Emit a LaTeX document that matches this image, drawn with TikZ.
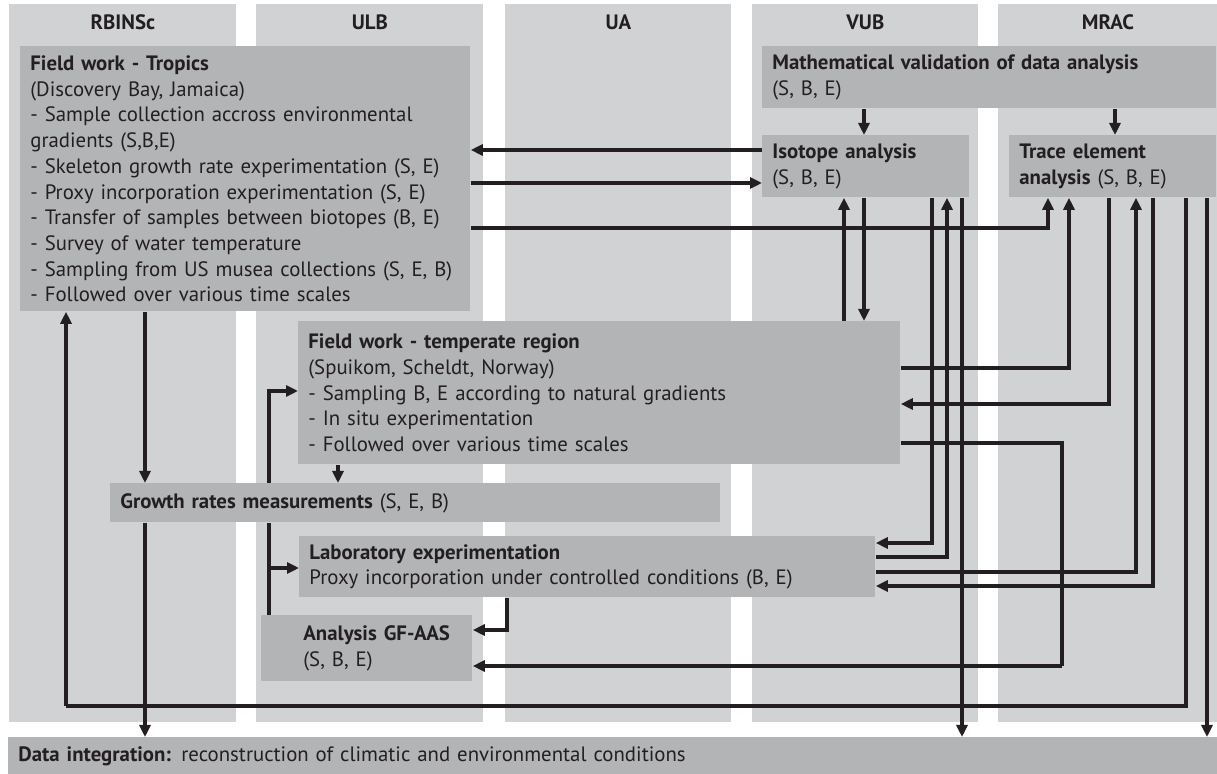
\documentclass[tikz,border=0pt]{standalone}
\usepackage{fontspec}
\setmainfont{PT Sans}
\usetikzlibrary{positioning,arrows.meta,calc}
\definecolor{lanegray}{HTML}{D1D2D4}
\definecolor{boxgray}{HTML}{B3B4B6}
\definecolor{ink}{HTML}{231F20}

\begin{document}
\begin{tikzpicture}[
    x=0.5pt, y=-0.5pt,
    lane/.style={fill=lanegray, anchor=north west, minimum height=359pt, inner sep=0pt},
    head/.style={font=\fontsize{10.4}{12}\selectfont\bfseries, text=ink},
    task/.style={fill=boxgray, anchor=north west, align=left, inner xsep=5pt, inner ysep=0pt,
        text=ink, font=\fontsize{10.4}{12.85}\selectfont},
    wire/.style={line width=2pt, draw=ink},
    flow/.style={wire, -{Triangle[length=6pt, width=5.5pt]}}
]
    \useasboundingbox (0,0) rectangle (1217,774);

    % Partner lanes
    \node[lane, minimum width=113.5pt] (laneA) at (9,4) {};
    \node[lane, minimum width=113.5pt] (laneB) at (256,4) {};
    \node[lane, minimum width=113pt] (laneC) at (505,4) {};
    \node[lane, minimum width=113pt] (laneD) at (752,4) {};
    \node[lane, minimum width=109.5pt] (laneE) at (998,4) {};
    \node[head] (hA) at ([yshift=-9pt]laneA.north) {RBINSc};
    \node[head] (hB) at ([yshift=-9pt]laneB.north) {ULB};
    \node[head] (hC) at ([yshift=-9pt]laneC.north) {UA};
    \node[head] (hD) at ([yshift=-9pt]laneD.north) {VUB};
    \node[head] (hE) at ([yshift=-9pt]laneE.north) {MRAC};

    % Tasks
    \node[task, minimum width=225pt, text width=215pt, minimum height=132.5pt] (trop) at (20,46)
        {\textbf{Field work - Tropics}\\
         (Discovery Bay, Jamaica)\\
         - Sample collection accross environmental\\
         gradients (S,B,E)\\
         - Skeleton growth rate experimentation (S, E)\\
         - Proxy incorporation experimentation (S, E)\\
         - Transfer of samples between biotopes (B, E)\\
         - Survey of water temperature\\
         - Sampling from US musea collections (S, E, B)\\
         - Followed over various time scales};
    \node[task, minimum width=227pt, text width=217pt, minimum height=31pt] (math) at (762,46)
        {\textbf{Mathematical validation of data analysis}\\ (S, B, E)};
    \node[task, minimum width=103.5pt, text width=93.5pt, minimum height=31pt] (iso) at (762,135)
        {\textbf{Isotope analysis}\\ (S, B, E)};
    \node[task, minimum width=103.5pt, text width=93.5pt, minimum height=31pt] (trace) at (1009,135)
        {\textbf{Trace element}\\ \textbf{analysis} (S, B, E)};
    \node[task, minimum width=301pt, text width=291pt, minimum height=71.5pt] (temp) at (298,321)
        {\textbf{Field work - temperate region}\\
         (Spuikom, Scheldt, Norway)\\
         - Sampling B, E according to natural gradients\\
         - In situ experimentation\\
         - Followed over various time scales};
    \node[task, minimum width=305pt, text width=295pt, minimum height=19.5pt] (growth) at (110,483)
        {\textbf{Growth rates measurements} (S, E, B)};
    \node[task, minimum width=288pt, text width=278pt, minimum height=30.5pt] (lab) at (299,536)
        {\textbf{Laboratory experimentation}\\ Proxy incorporation under controlled conditions (B, E)};
    \node[task, minimum width=105.5pt, text width=95.5pt, minimum height=33pt] (gfaas) at (261,615)
        {\hspace*{16pt}\textbf{Analysis GF-AAS}\\ \hspace*{16pt}(S, B, E)};
    \node[task, minimum width=604.5pt, text width=594.5pt, minimum height=18.5pt] (data) at (8,737)
        {\textbf{Data integration:} reconstruction of climatic and environmental conditions};

    % Helper corners
    \coordinate (split) at (269,568);
    \coordinate (loopL) at (66,706);
    \coordinate (turnG) at (1062,666);

    % Tropics links
    \draw[flow] (iso.west |- 0,150) -- (trop.east |- 0,150);
    \draw[flow] (trop.east |- 0,183) -- (iso.west |- 0,183);
    \draw[flow] (trop.east |- 0,228) -| (trace.south -| 1048,0);
    \draw[flow] (trop.south -| 145,0) -- (growth.north -| 145,0);
    \draw[flow] (growth.south -| 145,0) -- (data.north -| 145,0);

    % Validation
    \draw[flow] (math.south -| 864,0) -- (iso.north -| 864,0);
    \draw[flow] (math.south -| 1115,0) -- (trace.north -| 1115,0);

    % Temperate region
    \draw[flow] (temp.north -| 844,0) -- (iso.south -| 844,0);
    \draw[flow] (iso.south -| 864,0) -- (temp.north -| 864,0);
    \draw[flow] (temp.south -| 338,0) -- (growth.north -| 338,0);
    \draw[flow] (temp.east |- 0,368) -| (trace.south -| 1069,0);
    \draw[flow] (trace.south -| 1109,0) |- (temp.east |- 0,404);
    \draw[wire] (temp.east |- 0,443) -| (turnG);
    \draw[flow] (turnG) -- (gfaas.east |- turnG);

    % Laboratory and GF-AAS (the feed runs behind the growth box)
    \draw[flow] (lab.south -| 507,0) |- (gfaas.east |- 0,630);
    \draw[wire] (gfaas.north -| split) -- (growth.south -| split);
    \draw[flow] (growth.north -| split) |- (temp.west |- 0,391);
    \draw[flow] (split) -- (lab.west |- split);
    \draw[flow] (iso.south -| 932,0) |- (lab.east |- 0,543);
    \draw[flow] (lab.east |- 0,557) -| (iso.south -| 947,0);
    \draw[flow] (lab.east |- 0,572) -| (trace.south -| 1136,0);
    \draw[flow] (trace.south -| 1153,0) |- (lab.east |- 0,586);

    % Back to tropics and to data integration
    \draw[wire] (trace.south -| 1186,0) |- (loopL);
    \draw[flow] (loopL) -- (trop.south -| loopL);
    \draw[flow] (iso.south -| 962,0) -- (data.north -| 962,0);
    \draw[flow] (trace.south -| 1207,0) -- (data.north -| 1207,0);
\end{tikzpicture}
\end{document}
